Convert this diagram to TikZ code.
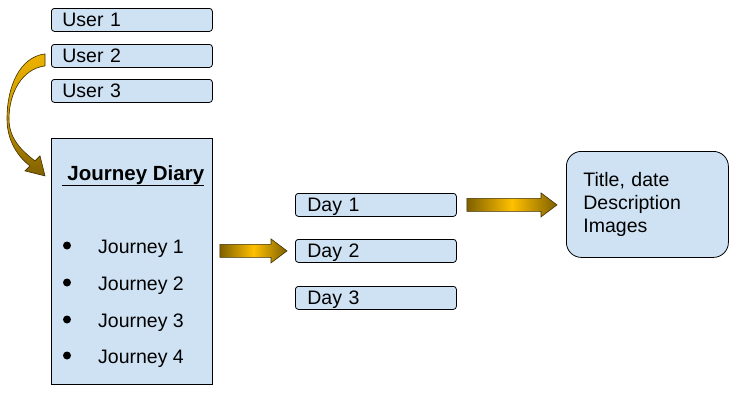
\documentclass[tikz,border=0pt]{standalone}
\usepackage{fontspec}
\setmainfont{Liberation Sans}
\usetikzlibrary{calc,positioning}

\definecolor{boxblue}{HTML}{CFE2F3}
\definecolor{golddark}{HTML}{7F6000}
\definecolor{goldlight}{HTML}{FFC000}
\definecolor{goldedge}{HTML}{3F3000}

\tikzset{
  userbox/.style={draw, fill=boxblue, rounded corners=3pt, line width=0.8pt,
    inner xsep=11pt, inner ysep=0pt, text width=139pt, align=left,
    minimum height=23pt, text height=14pt, text depth=0pt, anchor=north west},
  daybox/.style={userbox, inner xsep=12pt, text width=137pt},
  diarybox/.style={draw, fill=boxblue, line width=0.8pt, minimum width=161pt,
    minimum height=246pt, anchor=north west},
  resultbox/.style={draw, fill=boxblue, rounded corners=15pt, line width=0.8pt,
    inner xsep=17pt, text width=128pt, align=left, minimum height=106pt, anchor=north west},
  bullet/.style={circle, fill=black, inner sep=0pt, minimum size=8pt},
  item/.style={anchor=base west, inner sep=0pt},
  goldshaft/.style={draw=goldedge, line width=0.6pt, left color=golddark,
    right color=golddark, middle color=goldlight},
  goldcurve/.style={draw=goldedge, line width=0.6pt, top color=goldlight!85!golddark,
    bottom color=golddark, middle color=goldlight!60!golddark}
}

% straight block arrow from #1 to #2 (horizontal)
\newcommand{\goldarrow}[2]{%
  \path[goldshaft] let \p1=(#1), \p2=(#2) in
    (\x1,\y1+6.5pt) -- (\x2-16pt,\y1+6.5pt) -- (\x2-16pt,\y1+12pt) -- (\x2,\y1)
    -- (\x2-16pt,\y1-12pt) -- (\x2-16pt,\y1-6.5pt) -- (\x1,\y1-6.5pt) -- cycle;}

\begin{document}
\begin{tikzpicture}[x=1pt, y=-1pt, font=\fontsize{19.5}{23}\selectfont]
\useasboundingbox (0,0) rectangle (737,407);

% users
\node[userbox] (user1) at (51,8) {User 1};
\node[userbox] (user2) at (51,44) {User 2};
\node[userbox] (user3) at (51,79) {User 3};

% journey diary
\node[diarybox] (diary) at (51,138) {};
\node[anchor=base, inner sep=0pt, font=\fontsize{20.5}{23}\selectfont]
  (title) at (133,180) {\underline{\textbf{\ Journey Diary}}};
\foreach \i/\y in {1/253, 2/290, 3/327, 4/363} {
  \node[bullet] (b\i) at (67,\y-7.5) {};
  \node[item] (j\i) at (98,\y) {Journey \i};
}

% days
\node[daybox] (day1) at (295,193) {Day 1};
\node[daybox] (day2) at (295,239) {Day 2};
\node[daybox] (day3) at (295,286) {Day 3};

% details of a day
\node[resultbox] (detail) at (566,151) {Title, date\\Description\\Images};

% curved arrow from user 2 to the diary
\path[goldcurve, shift={(user2.west)}]
  (-6,-2) .. controls (-31,1) and (-44,30) .. (-44,63)
  .. controls (-44,85) and (-33,101) .. (-21,110)
  -- (-26,115) -- (-6,120) -- (-11,100) -- (-16,105)
  .. controls (-29,95) and (-42,83) .. (-42,63)
  .. controls (-42,37) and (-29,13) .. (-6,10) -- cycle;

% straight arrows
\coordinate (a1s) at ([xshift=7pt]diary.east |- day2.west);
\coordinate (a1e) at ([xshift=-8pt]day2.west);
\goldarrow{a1s}{a1e}
\coordinate (a2s) at ([xshift=10pt]day1.east);
\coordinate (a2e) at ([xshift=-9pt]detail.west |- day1.east);
\goldarrow{a2s}{a2e}

\end{tikzpicture}
\end{document}
